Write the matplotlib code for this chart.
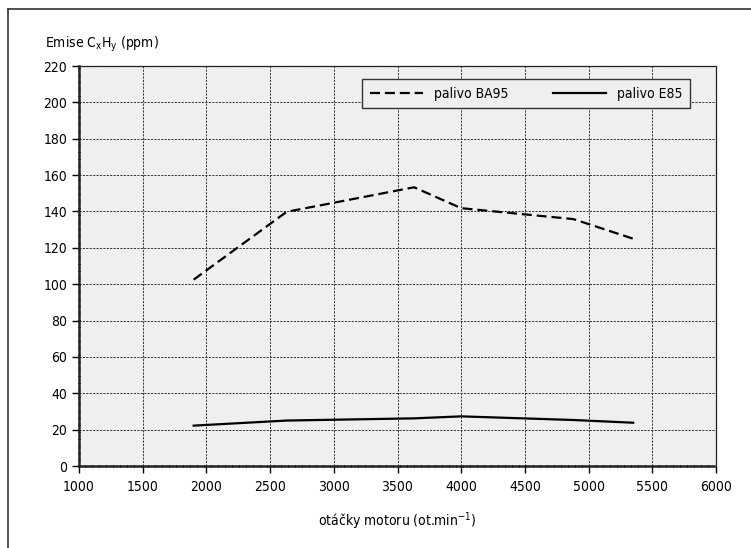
import matplotlib
matplotlib.use("Agg")
import matplotlib.pyplot as plt
from matplotlib.lines import Line2D
from matplotlib import font_manager

# engine speed (rpm) and hydrocarbon emissions (ppm)
otacky = [1900, 2630, 3630, 4000, 4880, 5350]
ba95 = [102.5, 139.8, 153.3, 141.8, 135.8, 125.0]
e85 = [22.2, 25.0, 26.2, 27.3, 25.3, 23.8]

x_ticks = [1000, 1500, 2000, 2500, 3000, 3500, 4000, 4500, 5000, 5500, 6000]
y_ticks = [0, 20, 40, 60, 80, 100, 120, 140, 160, 180, 200, 220]

names = {f.name for f in font_manager.fontManager.ttflist}
print(sorted(n for n in names if "Narrow" in n or "Condensed" in n or "DejaVu" in n or "Liberation" in n))

plt.rcParams["font.family"] = ["DejaVu Sans"]
plt.rcParams["font.stretch"] = "condensed"
plt.rcParams["font.size"] = 10
plt.rcParams["mathtext.fontset"] = "custom"
plt.rcParams["mathtext.rm"] = "DejaVu Sans:stretch=condensed"
plt.rcParams["mathtext.it"] = "DejaVu Sans:stretch=condensed"

bg = "#eef0ef"

fig = plt.figure(figsize=(7.51, 5.48), dpi=100)
ax = fig.add_axes([79 / 751, 1 - 466 / 548, 637 / 751, 400 / 548])
ax.set_facecolor(bg)

ax.plot(otacky, ba95, color="black", lw=1.6, dashes=(4.5, 2.2), label="palivo BA95")
ax.plot(otacky, e85, color="black", lw=1.6, label="palivo E85")

ax.set_xlim(1000, 6000)
ax.set_ylim(0, 220)
ax.set_xticks(x_ticks)
ax.set_yticks(y_ticks)
ax.grid(True, color="#333333", lw=0.7, linestyle=(0, (2.2, 1.3)))
ax.set_axisbelow(True)

for side, s in ax.spines.items():
	s.set_color("#222222")
	s.set_linestyle((0, (2, 0.8)))
	s.set_linewidth(1.8 if side in ("left", "bottom") else 0.9)

ax.tick_params(axis="both", direction="out", length=5, width=1, colors="black", labelsize=10)
ax.tick_params(axis="y", pad=3.5)
ax.tick_params(axis="x", pad=5)

leg = ax.legend(loc="upper right", bbox_to_anchor=(0.959, 0.9675), ncol=2,
	frameon=True, fancybox=False, facecolor=bg, edgecolor="#333333",
	handlelength=3.8, handletextpad=0.8, columnspacing=3.2,
	borderpad=0.55, borderaxespad=0, fontsize=10)
leg.get_frame().set_linewidth(1.0)
leg.get_frame().set_alpha(1)

fig.text(45 / 751, 1 - 44 / 548, "Emise C$_{\\mathrm{x}}$H$_{\\mathrm{y}}$ (ppm)", ha="left", va="center", fontsize=10)
fig.text(397 / 751, 1 - 521 / 548, "otáčky motoru (ot.min$^{-1}$)", ha="center", va="center", fontsize=10)

# outer frame (top and left edge)
fig.add_artist(Line2D([8 / 751, 1], [1 - 9 / 548, 1 - 9 / 548], transform=fig.transFigure, color="#333333", lw=1.2))
fig.add_artist(Line2D([8 / 751, 8 / 751], [1 - 9 / 548, 0], transform=fig.transFigure, color="#333333", lw=1.2))

plt.savefig("out.png", format="png", dpi=100)
plt.close()
